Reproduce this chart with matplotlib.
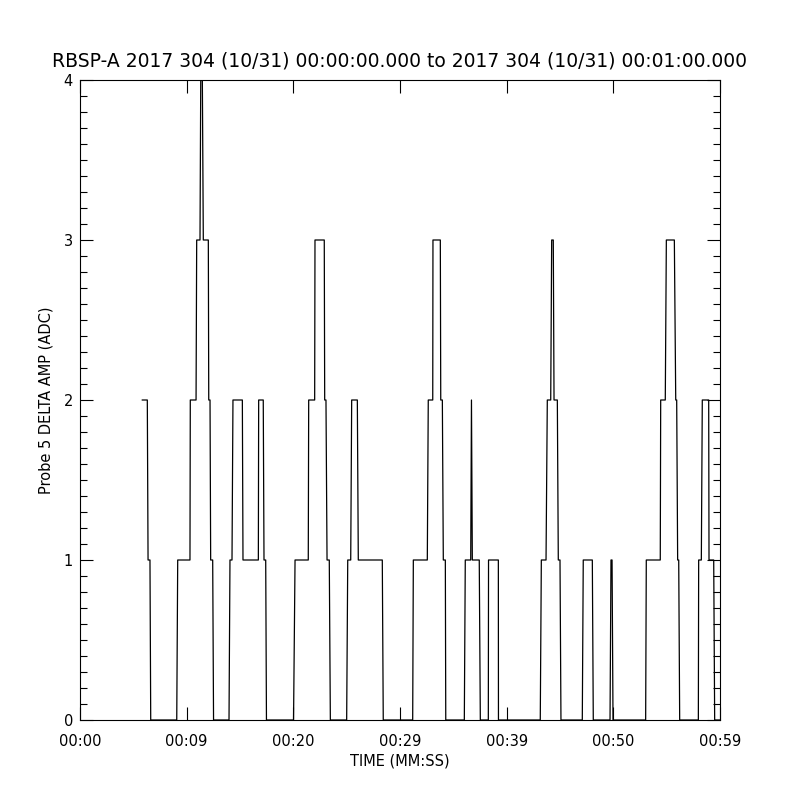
import matplotlib
matplotlib.use('Agg')
import matplotlib.pyplot as plt
from matplotlib.ticker import MultipleLocator

# vertices of the trace (seconds after 00:00:00, ADC counts)
times = [5.84, 6.31, 6.38, 6.56, 6.63,
         9.07, 9.16, 10.31, 10.34, 10.88, 10.94, 11.25, 11.32, 11.47, 11.56,
         12.03, 12.07, 12.19, 12.25, 12.44, 12.52,
         13.97, 14.06, 14.25, 14.34, 15.22, 15.28, 16.72, 16.75, 17.18, 17.25,
         17.41, 17.48,
         20.02, 20.16, 21.40, 21.44, 22.00, 22.03, 22.90, 22.94, 23.06, 23.16,
         23.37, 23.47,
         25.00, 25.10, 25.38, 25.47, 26.00, 26.09, 28.34, 28.43,
         31.19, 31.25, 32.56, 32.65, 33.07, 33.09, 33.78, 33.82, 33.97, 34.06,
         34.25, 34.29,
         36.03, 36.12, 36.63, 36.70, 36.78, 37.43, 37.53,
         38.28, 38.30, 39.22, 39.23,
         43.15, 43.25, 43.69, 43.81, 44.13, 44.22, 44.37, 44.44, 44.75, 44.84,
         45.00, 45.09,
         47.09, 47.18, 48.03, 48.12,
         49.69, 49.78, 49.88, 49.97,
         53.03, 53.09, 54.40, 54.44, 54.87, 54.97, 55.72, 55.85, 55.94, 56.03,
         56.13, 56.22,
         57.97, 58.00, 58.25, 58.34, 58.94, 58.97, 59.41, 59.50, 60.0]
values = [2, 2, 1, 1, 0,
          0, 1, 1, 2, 2, 3, 3, 4, 4, 3,
          3, 2, 2, 1, 1, 0,
          0, 1, 1, 2, 2, 1, 1, 2, 2, 1,
          1, 0,
          0, 1, 1, 2, 2, 3, 3, 2, 2, 1,
          1, 0,
          0, 1, 1, 2, 2, 1, 1, 0,
          0, 1, 1, 2, 2, 3, 3, 2, 2, 1,
          1, 0,
          0, 1, 1, 2, 1, 1, 0,
          0, 1, 1, 0,
          0, 1, 1, 2, 2, 3, 3, 2, 2, 1,
          1, 0,
          0, 1, 1, 0,
          0, 1, 1, 0,
          0, 1, 1, 2, 2, 3, 3, 2, 2, 1,
          1, 0,
          0, 1, 1, 2, 2, 1, 1, 0, 0]

tick_pos = [0, 10, 20, 30, 40, 50, 60]
tick_labels = ['00:00', '00:09', '00:20', '00:29', '00:39', '00:50', '00:59']

plt.rcParams['font.family'] = ['DejaVu Sans']
fs = 10.5

fig = plt.figure(figsize=(8, 8), dpi=100)
ax = fig.add_axes([0.1, 0.1, 0.8, 0.8])

ax.plot(times, values, color='black', lw=0.9)

ax.set_xlim(0, 60)
ax.set_ylim(0, 4)
ax.set_xticks(tick_pos)
ax.set_xticklabels(tick_labels)
ax.set_yticks([0, 1, 2, 3, 4])
ax.yaxis.set_minor_locator(MultipleLocator(0.1))

# IDL look: inward ticks on every side
ax.tick_params(which='both', direction='in', top=True, right=True,
               labelsize=fs, width=0.8, color='black')
ax.tick_params(which='major', length=9.4)
ax.tick_params(which='minor', length=5)
ax.tick_params(axis='x', pad=10)
ax.tick_params(axis='y', pad=5)
for s in ax.spines.values():
    s.set_linewidth(0.8)

ax.set_title('RBSP-A 2017 304 (10/31) 00:00:00.000 to 2017 304 (10/31) 00:01:00.000',
             fontsize=13.5, pad=10)
ax.set_xlabel('TIME (MM:SS)', fontsize=fs, labelpad=3)
ax.set_ylabel('Probe 5 DELTA AMP (ADC)', fontsize=fs, labelpad=7)

plt.savefig('out.png', dpi=100)
